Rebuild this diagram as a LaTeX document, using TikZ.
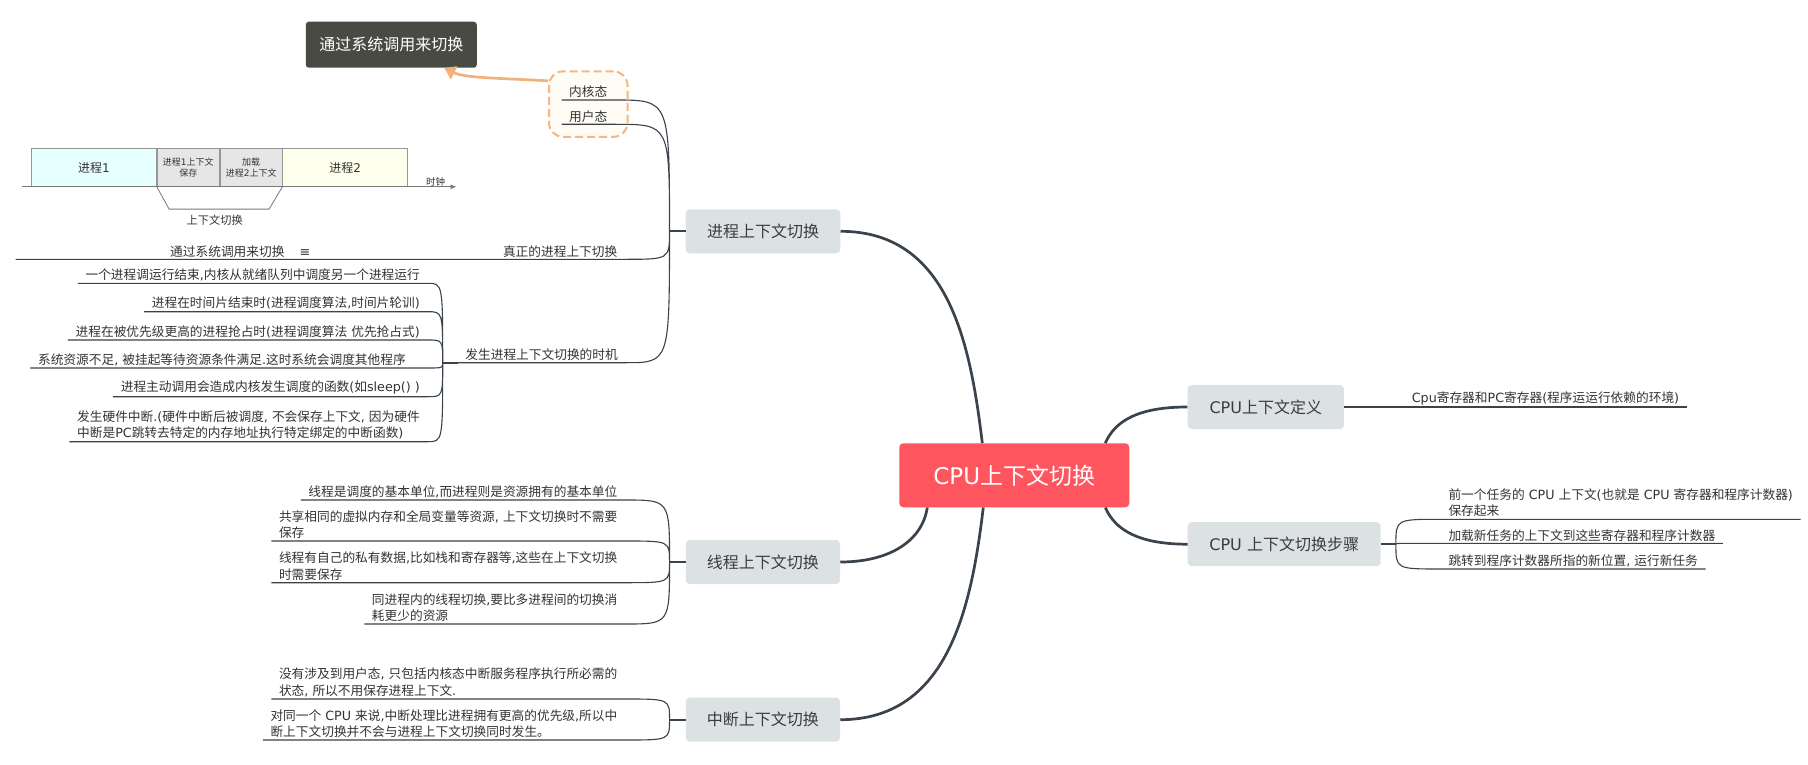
\documentclass[tikz,border=0pt]{standalone}
\usepackage{fontspec}
\usepackage{xcolor}
\usepackage{tikz}
\usetikzlibrary{positioning,fit,backgrounds,arrows.meta}
\setmainfont{DejaVu Sans}
\newfontfamily\hanfont{Noto Sans CJK SC}
\newfontfamily\latfont{DejaVu Sans}
% Han characters in Noto, the rest in DejaVu
\XeTeXinterchartokenstate=1
\newXeTeXintercharclass\hanclass
\count255="3000
\loop
  \XeTeXcharclass\count255=\hanclass
\ifnum\count255<"9FFF \advance\count255 by 1 \repeat
\count255="FF00
\loop
  \XeTeXcharclass\count255=\hanclass
\ifnum\count255<"FFEF \advance\count255 by 1 \repeat
\XeTeXinterchartoks 0 \hanclass = {\hanfont}
\XeTeXinterchartoks 4095 \hanclass = {\hanfont}
\XeTeXinterchartoks \hanclass 0 = {\latfont}
\XeTeXinterchartoks \hanclass 4095 = {\latfont}
\definecolor{hubred}{RGB}{255,85,94}
\definecolor{topicgray}{RGB}{220,226,228}
\definecolor{topictext}{RGB}{60,60,60}
\definecolor{linecol}{RGB}{58,66,76}
\definecolor{leaftext}{RGB}{51,51,51}
\definecolor{darkbox}{RGB}{74,74,68}
\definecolor{orangeline}{RGB}{245,182,128}
\definecolor{arrowcol}{RGB}{242,176,122}
\definecolor{creamfill}{RGB}{255,251,245}
\definecolor{proc1col}{RGB}{230,255,255}
\definecolor{savecol}{RGB}{230,230,230}
\definecolor{proc2col}{RGB}{255,255,238}
\definecolor{procline}{RGB}{150,150,150}
\definecolor{clockline}{RGB}{120,120,120}
\tikzset{
  hub/.style       = { rectangle, rounded corners=4pt, fill=hubred, text=white, font=\fontsize{23}{28}\selectfont, minimum width=230pt, minimum height=64pt, inner sep=0pt },
  topic/.style     = { rectangle, rounded corners=4pt, fill=topicgray, text=topictext, font=\fontsize{16}{20}\selectfont, minimum height=44pt, inner sep=0pt },
  sysbox/.style    = { rectangle, rounded corners=3pt, fill=darkbox, text=white, font=\fontsize{16}{20}\selectfont, minimum width=171pt, minimum height=46pt, inner sep=0pt },
  leaf/.style      = { inner xsep=7.5pt, inner ysep=2pt, text=leaftext, align=left, font=\fontsize{12.7}{16.5}\selectfont },
  limb/.style      = { line width=2.7pt, linecol },
  stub/.style      = { line width=2pt, linecol },
  twig/.style      = { line width=1.1pt, linecol },
  fence/.style     = { draw=orangeline, fill=creamfill, line width=2pt, dash pattern=on 8pt off 4pt, rounded corners=14pt, inner sep=12.5pt },
  sysarrow/.style  = { line width=2.7pt, arrowcol, -{Triangle[length=11pt,width=14pt]} },
  procbox/.style   = { draw=procline, line width=0.8pt, minimum height=37.7pt, inner sep=0pt, text=leaftext, align=center, font=\fontsize{12}{14}\selectfont },
  tinytext/.style  = { font=\fontsize{9}{11}\selectfont },
  clockaxis/.style = { draw=clockline, line width=0.8pt, -{Latex[length=6pt,width=5pt]} },
  bracket/.style   = { draw=clockline, line width=0.8pt }
}
\begin{document}
\begin{tikzpicture}[x=1pt, y=-1pt]
  \begin{scope}[on background layer]
    \fill[white] (0,0) rectangle (1808,765);
  \end{scope}
  \useasboundingbox (0,0) rectangle (1808,765);
  % Draw main topics
  \node[hub] (cpu) at (1014.3,475.3) {CPU上下文切换};
  \node[topic, minimum width=154.6pt] (proc)   at (763,231.3)    {进程上下文切换};
  \node[topic, minimum width=154.3pt] (thread) at (762.9,562)    {线程上下文切换};
  \node[topic, minimum width=154.3pt] (intr)   at (762.9,719.7)  {中断上下文切换};
  \node[topic, minimum width=156.3pt] (def)    at (1265.8,407)   {CPU上下文定义};
  \node[topic, minimum width=193pt]   (steps)  at (1284.2,544.2) {CPU 上下文切换步骤};
  \draw[limb] ([xshift=-32pt]cpu.north) .. controls +(-12,-100) and +(108,0) .. (proc.east);
  \draw[limb] ([xshift=-87pt]cpu.south) .. controls +(-5,33) and +(50,0) .. (thread.east);
  \draw[limb] ([xshift=-31pt]cpu.south) .. controls +(-12,100) and +(108,0) .. (intr.east);
  \draw[limb] ([xshift=91pt]cpu.north) .. controls +(10,-23) and +(-48,0) .. (def.west);
  \draw[limb] ([xshift=91pt]cpu.south) .. controls +(10,23) and +(-48,0) .. (steps.west);
  % Process context switch
  \coordinate (jp) at ([xshift=-16pt]proc.west);
  \draw[stub] (proc.west) -- (jp);
  \node[leaf, anchor=south west] (kern) at (561.5,100)   {内核态};
  \node[leaf, anchor=south west] (user) at (561.5,124.3) {用户态};
  \node[leaf, anchor=south east] (real) at (625,259.3)   {真正的进程上下切换};
  \node[leaf, anchor=south east] (when) at (625.5,362.7) {发生进程上下文切换的时机};
  \node[leaf, anchor=south west] (note) at (162.5,259.3) {通过系统调用来切换\hspace{15pt}≡};
  \coordinate (picl) at (15.5,259.3);
  \draw[twig] (kern.south west) -- (kern.south east) .. controls (jp |- kern.south east) .. (jp)
              (user.south west) -- (user.south east) .. controls (jp |- user.south east) .. (jp)
              (picl) -- (real.south east) .. controls (jp |- real.south east) .. (jp)
              (when.south west) -- (when.south east) .. controls (jp |- when.south east) .. (jp);
  \begin{scope}[on background layer]
    \node[fence, fit=(kern)(user)] (bnd) {};
  \end{scope}
  \node[sysbox] (sys) at (391.3,44.7) {通过系统调用来切换};
  \draw[sysarrow] (bnd.150) .. controls +(-55,-3) and +(20,10) .. ([xshift=53pt]sys.south);
  % Timeline picture
  \node[procbox, fill=proc1col, minimum width=125pt, anchor=north west] (p1) at (31,148.3) {进程1};
  \node[procbox, fill=savecol, minimum width=62.3pt, tinytext, right=0pt of p1] (p2) {进程1上下文\\保存};
  \node[procbox, fill=savecol, minimum width=61.7pt, tinytext, right=0pt of p2] (p3) {加载\\进程2上下文};
  \node[procbox, fill=proc2col, minimum width=125pt, right=0pt of p3] (p4) {进程2};
  \draw[clockaxis] ([xshift=-9.3pt]p1.south west) -- ([xshift=48.3pt]p4.south east);
  \node[font=\fontsize{9.5}{11}\selectfont, text=leaftext, inner sep=0pt, anchor=south] (clk) at (435.5,186.5) {时钟};
  \draw[bracket] (p2.south west) -- ++(12.3,22.3) -- ++(100,0) -- (p3.south east);
  \node[font=\fontsize{11.2}{13}\selectfont, text=leaftext] (ctx) at (214.7,220) {上下文切换};
  % Moments of a process switch
  \coordinate (jw) at ([xshift=-15pt]when.south west);
  \draw[stub] (jw) -- (when.south west);
  \node[leaf, anchor=south east] (w1) at (427.5,283.3) {一个进程调运行结束,内核从就绪队列中调度另一个进程运行};
  \node[leaf, anchor=south east] (w2) at (427.5,311.7) {进程在时间片结束时(进程调度算法,时间片轮训)};
  \node[leaf, anchor=south east] (w3) at (427.5,340)   {进程在被优先级更高的进程抢占时(进程调度算法 优先抢占式)};
  \node[leaf, anchor=south east] (w4) at (413.5,368)   {系统资源不足, 被挂起等待资源条件满足.这时系统会调度其他程序};
  \node[leaf, anchor=south east] (w5) at (427.5,396.7) {进程主动调用会造成内核发生调度的函数(如sleep() )};
  \node[leaf, anchor=south east] (w6) at (427.5,441.7) {发生硬件中断.(硬件中断后被调度, 不会保存上下文, 因为硬件\\中断是PC跳转去特定的内存地址执行特定绑定的中断函数)};
  \draw[twig] (w1.south west) -- (w1.south east) .. controls (jw |- w1.south east) .. (jw)
              (w2.south west) -- (w2.south east) .. controls (jw |- w2.south east) .. (jw)
              (w3.south west) -- (w3.south east) .. controls (jw |- w3.south east) .. (jw)
              (w4.south west) -- (w4.south east) -- (w1.south east |- w4.south east) .. controls (jw |- w4.south east) .. (jw)
              (w5.south west) -- (w5.south east) .. controls (jw |- w5.south east) .. (jw)
              (w6.south west) -- (w6.south east) .. controls (jw |- w6.south east) .. (jw);
  % Thread context switch
  \coordinate (jt) at ([xshift=-16pt]thread.west);
  \draw[stub] (thread.west) -- (jt);
  \node[leaf, anchor=south east] (t1) at (625,500)   {线程是调度的基本单位,而进程则是资源拥有的基本单位};
  \node[leaf, anchor=south east] (t2) at (625,541)   {共享相同的虚拟内存和全局变量等资源, 上下文切换时不需要\\保存};
  \node[leaf, anchor=south east] (t3) at (625,582.7) {线程有自己的私有数据,比如栈和寄存器等,这些在上下文切换\\时需要保存};
  \node[leaf, anchor=south east] (t4) at (625,624)   {同进程内的线程切换,要比多进程间的切换消\\耗更少的资源};
  \draw[twig] (t1.south west) -- (t1.south east) .. controls (jt |- t1.south east) .. (jt)
              (t2.south west) -- (t2.south east) .. controls (jt |- t2.south east) .. (jt)
              (t3.south west) -- (t3.south east) .. controls (jt |- t3.south east) .. (jt)
              (t4.south west) -- (t4.south east) .. controls (jt |- t4.south east) .. (jt);
  % Interrupt context switch
  \coordinate (ji) at ([xshift=-16pt]intr.west);
  \draw[stub] (intr.west) -- (ji);
  \node[leaf, anchor=south east] (i1) at (625,699) {没有涉及到用户态, 只包括内核态中断服务程序执行所必需的\\状态, 所以不用保存进程上下文.};
  \node[leaf, anchor=south east] (i2) at (625,740) {对同一个 CPU 来说,中断处理比进程拥有更高的优先级,所以中\\断上下文切换并不会与进程上下文切换同时发生。};
  \draw[twig] (i1.south west) -- (i1.south east) .. controls (ji |- i1.south east) .. (ji)
              (i2.south west) -- (i2.south east) .. controls (ji |- i2.south east) .. (ji);
  % CPU context
  \node[leaf, anchor=south west] (regs) at ([xshift=60pt]def.east) {Cpu寄存器和PC寄存器(程序运运行依赖的环境)};
  \draw[twig] (def.east) -- (regs.south east);
  % Switch steps
  \coordinate (js) at ([xshift=15pt]steps.east);
  \draw[stub] (steps.east) -- (js);
  \node[leaf, anchor=south west] (s1) at (1440.8,519.3) {前一个任务的 CPU 上下文(也就是 CPU 寄存器和程序计数器)\\保存起来};
  \node[leaf, anchor=south west] (s2) at (1440.8,543.3) {加载新任务的上下文到这些寄存器和程序计数器};
  \node[leaf, anchor=south west] (s3) at (1440.8,569)   {跳转到程序计数器所指的新位置, 运行新任务};
  \draw[twig] (js) .. controls (js |- s1.south west) .. (s1.south west) -- (s1.south east)
              (js) .. controls (js |- s2.south west) .. (s2.south west) -- (s2.south east)
              (js) .. controls (js |- s3.south west) .. (s3.south west) -- (s3.south east);
\end{tikzpicture}
\end{document}
